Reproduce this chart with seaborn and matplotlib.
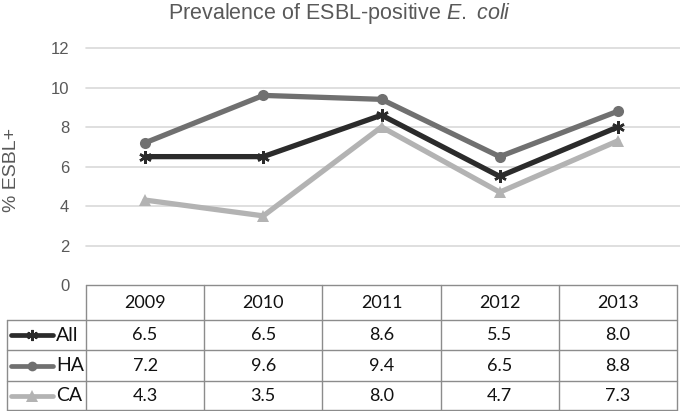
import matplotlib
matplotlib.use("Agg")
import matplotlib.pyplot as plt
import seaborn as sns
import pandas as pd
from matplotlib.lines import Line2D
from matplotlib.transforms import blended_transform_factory

years = ["2009", "2010", "2011", "2012", "2013"]
series_names = ["All", "HA", "CA"]
all_vals = [6.5, 6.5, 8.6, 5.5, 8.0]
ha_vals = [7.2, 9.6, 9.4, 6.5, 8.8]
ca_vals = [4.3, 3.5, 8.0, 4.7, 7.3]
yticks = [0, 2, 4, 6, 8, 10, 12]

sns.set_theme(style="white")
plt.rcParams["font.family"] = ["Liberation Sans", "DejaVu Sans"]
plt.rcParams["mathtext.fontset"] = "custom"
plt.rcParams["mathtext.rm"] = "Liberation Sans"
plt.rcParams["mathtext.it"] = "Liberation Sans:italic"

W, H = 680, 411
fig = plt.figure(figsize=(W / 100, H / 100), dpi=100)

def fx(p):
    return p / W

def fy(p):
    return 1 - p / H

ax = fig.add_axes([fx(86), fy(285), fx(677 - 86), (285 - 48) / H])

values = {"All": all_vals, "HA": ha_vals, "CA": ca_vals}
colors = {"All": "#2b2b2b", "HA": "#707070", "CA": "#b3b3b3"}
markers = {"All": (6, 2, 0), "HA": "o", "CA": "^"}
msizes = {"All": 9, "HA": 8, "CA": 9}

for name in series_names:
    df = pd.DataFrame({"x": list(range(len(years))), "y": values[name]})
    sns.lineplot(data=df, x="x", y="y", ax=ax, color=colors[name], lw=3.8,
                 marker=markers[name], markersize=msizes[name],
                 markeredgecolor=colors[name], markeredgewidth=1.8 if name == "All" else 0,
                 legend=False, zorder=3)

ax.set_xlim(-0.5, len(years) - 0.5)
ax.set_ylim(0, 12)
ax.set_yticks(yticks)
ax.set_yticklabels([str(t) for t in yticks], fontsize=12, color="#595959")
ax.set_xticks([])
ax.set_xlabel("")
ax.set_ylabel("")
ax.tick_params(axis="y", length=0, pad=12)
for s in ax.spines.values():
    s.set_visible(False)
for t in yticks[1:]:
    ax.axhline(t, color="#d9d9d9", lw=1.2, zorder=1, xmax=1.005, clip_on=False)

fig.text(fx(12), fy(170), "% ESBL+", rotation=90, ha="center", va="center",
         fontsize=14, color="#595959")

fig.text(0.5, fy(13), r"Prevalence of ESBL-positive $\it{E.}$ $\it{coli}$",
         ha="center", va="center", fontsize=15.5, color="#595959")

# Table
tr = blended_transform_factory(ax.transData, fig.transFigure)
bc = "#8c8c8c"
row_edges = [285, 320, 350, 381, 410]
n = len(years)
fig.add_artist(Line2D([fx(86), fx(677)], [fy(285), fy(285)], color=bc, lw=1, transform=fig.transFigure))
for r in row_edges[1:]:
    fig.add_artist(Line2D([fx(7), fx(677)], [fy(r), fy(r)], color=bc, lw=1, transform=fig.transFigure))
for i in range(n + 1):
    fig.add_artist(Line2D([i - 0.5, i - 0.5], [fy(285), fy(410)], color=bc, lw=1, transform=tr))
fig.add_artist(Line2D([fx(7), fx(7)], [fy(320), fy(410)], color=bc, lw=1, transform=fig.transFigure))

tfont = ["Lato", "DejaVu Sans"]
tcol = "#111111"
for i, yr in enumerate(years):
    fig.text(i, fy((285 + 320) / 2), yr, transform=tr, ha="center", va="center",
             fontsize=13, family=tfont, color=tcol)
for k, name in enumerate(series_names):
    yc = fy((row_edges[k + 1] + row_edges[k + 2]) / 2)
    for i, v in enumerate(values[name]):
        fig.text(i, yc, f"{v:.1f}", transform=tr, ha="center", va="center",
                 fontsize=13, family=tfont, color=tcol)
    fig.add_artist(Line2D([fx(11), fx(32), fx(53)], [yc, yc, yc], color=colors[name], lw=3.4,
                          marker=markers[name], markevery=[1], markersize=msizes[name] - 1,
                          markeredgecolor=colors[name],
                          markeredgewidth=1.6 if name == "All" else 0,
                          transform=fig.transFigure))
    fig.text(fx(56), yc, name, ha="left", va="center", fontsize=14, family=tfont, color=tcol)

fig.savefig("out.png", dpi=100)
